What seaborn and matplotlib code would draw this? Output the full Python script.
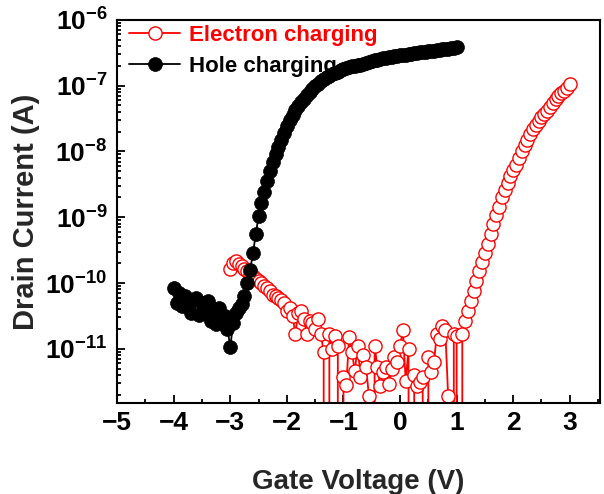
import matplotlib
matplotlib.use('Agg')
import matplotlib.pyplot as plt
import numpy as np
import pandas as pd
import seaborn as sns
from matplotlib.ticker import MultipleLocator, LogLocator

# Gate sweeps (V): start, step
elec_start, hole_start, v_step = -3.0, -4.0, 0.05

# log10 of drain current (A); None = reading below zero (drops off the log axis)
elec_log = [
    -9.78, -9.69, -9.66, -9.71, -9.74, -9.78, -9.82, -9.86, -9.90, -9.94,
    -9.97, -10.00, -10.05, -10.08, -10.12, -10.18, -10.20, -10.23, -10.25, -10.30,
    -10.42, -10.38, -10.50, -10.77, -10.45, -10.43, -10.54, -10.77, -10.57, -10.60,
    -10.70, -10.55, -10.77, -11.05, None, -10.77, -11.00, -10.80, -10.95, None,
    -11.42, -11.55, -10.82, -11.05, -11.34, -10.95, -11.42, -11.10, -11.28, -11.72,
    None, -10.95, -11.28, -11.57, -11.35, -11.28, -11.54, -11.30, -11.12, -11.20,
    -10.95, -10.72, -11.49, -11.00, None, -11.40, -11.57, -11.50, -11.43, None,
    -11.12, -11.35, -11.20, -10.77, -10.85, -10.66, -10.72, -11.72, None, -10.78,
    -10.80, None, -10.78, -10.57, -10.42, -10.28, -10.12, -9.97, -9.82, -9.68,
    -9.55, -9.40, -9.25, -9.10, -8.96, -8.84, -8.70, -8.58, -8.48, -8.38,
    -8.28, -8.20, -8.10, -8.00, -7.90, -7.82, -7.74, -7.66, -7.60, -7.54,
    -7.48, -7.43, -7.38, -7.32, -7.26, -7.21, -7.16, -7.12, -7.08, -7.03,
    -6.98,
]
hole_log = [
    -10.08, -10.30, -10.15, -10.35, -10.20, -10.28, -10.45, -10.25, -10.22, -10.48,
    -10.30, -10.45, -10.28, -10.58, -10.40, -10.62, -10.38, -10.55, -10.50, -10.70,
    -10.97, -10.60, -10.45, -10.38, -10.32, -10.20, -10.00, -9.80, -9.55, -9.25,
    -8.98, -8.78, -8.62, -8.45, -8.30, -8.16, -8.04, -7.93, -7.83, -7.72,
    -7.61, -7.52, -7.44, -7.37, -7.31, -7.25, -7.20, -7.15, -7.10, -7.05,
    -7.01, -6.97, -6.93, -6.90, -6.87, -6.85, -6.83, -6.81, -6.79, -6.77,
    -6.75, -6.735, -6.72, -6.71, -6.70, -6.69, -6.68, -6.67, -6.655, -6.64,
    -6.63, -6.615, -6.605, -6.595, -6.585, -6.575, -6.57, -6.56, -6.55, -6.545,
    -6.54, -6.535, -6.53, -6.52, -6.515, -6.51, -6.50, -6.495, -6.49, -6.485,
    -6.48, -6.475, -6.47, -6.46, -6.455, -6.45, -6.445, -6.44, -6.435, -6.43,
    -6.42,
]
labels = ['Electron charging', 'Hole charging']
x_ticks = [-5, -4, -3, -2, -1, 0, 1, 2, 3]
y_ticks = [1e-11, 1e-10, 1e-9, 1e-8, 1e-7, 1e-6]


def to_frame(start, logs):
    volts = np.round(start + v_step * np.arange(len(logs)), 2)
    cur = [10.0 ** v if v is not None else -1e-13 for v in logs]
    return pd.DataFrame({'Gate Voltage (V)': volts, 'Drain Current (A)': cur})


df_e = to_frame(elec_start, elec_log)
df_h = to_frame(hole_start, hole_log)

sns.set_style('ticks')
plt.rcParams['font.family'] = ['Liberation Sans', 'DejaVu Sans']
plt.rcParams['font.weight'] = 'bold'
plt.rcParams['axes.labelweight'] = 'bold'

fig = plt.figure(figsize=(6.04, 4.94), dpi=100)
ax = fig.add_axes([0.194, 0.184, 0.799, 0.776])

sns.lineplot(data=df_e, x='Gate Voltage (V)', y='Drain Current (A)', ax=ax,
             sort=False, estimator=None, color='red', linewidth=1.3,
             marker='o', markersize=9.5, markerfacecolor='white',
             markeredgecolor='red', markeredgewidth=1.0, label=labels[0])
sns.lineplot(data=df_h, x='Gate Voltage (V)', y='Drain Current (A)', ax=ax,
             sort=False, estimator=None, color='black', linewidth=1.3,
             marker='o', markersize=10, markerfacecolor='black',
             markeredgecolor='black', markeredgewidth=0.5, label=labels[1])

ax.set_yscale('log')
ax.set_ylim(1.5e-12, 1e-6)
ax.set_xlim(-5, 3.53)
ax.set_xticks(x_ticks)
ax.set_yticks(y_ticks)
ax.xaxis.set_minor_locator(MultipleLocator(0.5))
ax.yaxis.set_minor_locator(LogLocator(base=10, subs=np.arange(2, 10), numticks=12))

for s in ax.spines.values():
    s.set_linewidth(1.5)
    s.set_color('black')
ax.tick_params(which='both', direction='in', width=1.3, colors='black',
               labelsize=19, top=False, right=False)
ax.tick_params(which='major', length=6)
ax.tick_params(which='minor', length=3)
ax.tick_params(axis='x', pad=6)
ax.tick_params(axis='y', pad=7)
for t in ax.get_xticklabels() + ax.get_yticklabels():
    t.set_fontweight('bold')

ax.set_xlabel('Gate Voltage (V)', fontsize=20, fontweight='bold', labelpad=24)
ax.set_ylabel('Drain Current (A)', fontsize=21, fontweight='bold', labelpad=4)

handles, _ = ax.get_legend_handles_labels()
ax.legend(handles, labels, loc='upper left', bbox_to_anchor=(0.02, 0.992),
          frameon=False, prop={'size': 16, 'weight': 'bold'},
          labelcolor='linecolor', handlelength=2.3, handletextpad=0.4,
          labelspacing=0.45, borderpad=0.1, borderaxespad=0.0)

fig.savefig('out.png', dpi=100)
